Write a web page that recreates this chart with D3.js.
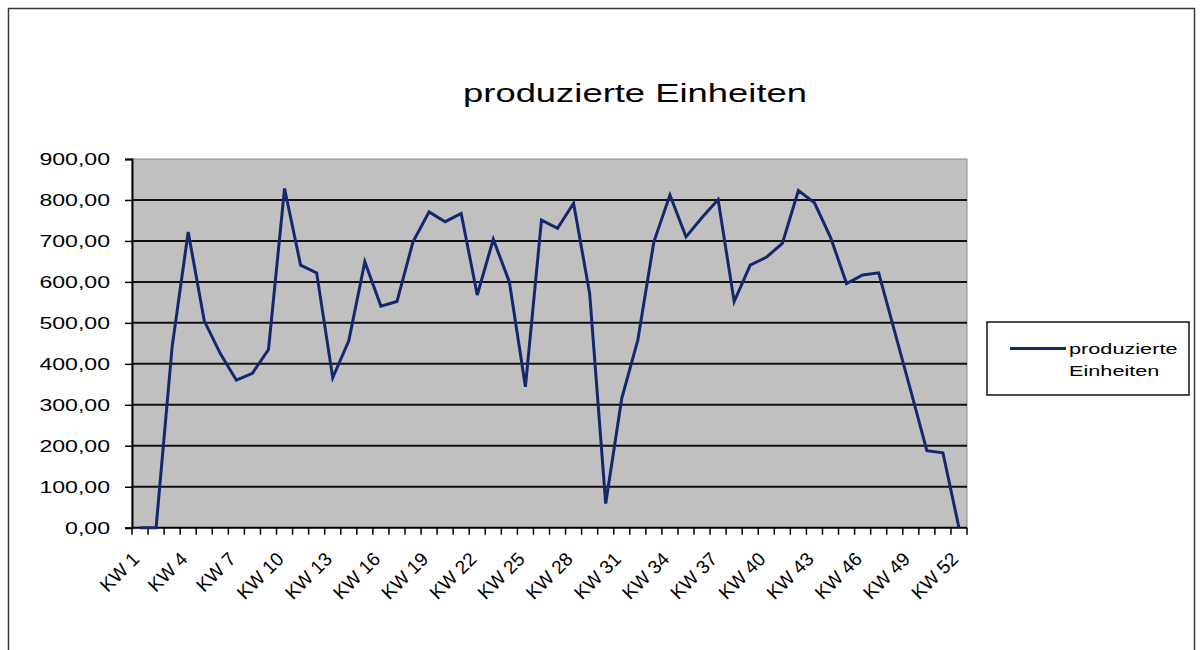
<!DOCTYPE html>
<html>
<head>
<meta charset="utf-8">
<script src="https://cdn.jsdelivr.net/npm/d3@7"></script>
<style>
  html, body { margin: 0; padding: 0; background: #ffffff; }
  svg { display: block; }
  text { font-family: Arial, "Liberation Sans", sans-serif; fill: #000; }
</style>
</head>
<body>
<svg id="chart" width="1200" height="650"></svg>
<script>
// ---- data ----
const categories = d3.range(1, 53).map(i => "KW " + i);
const values = [
  0, 0, 442, 722, 505, 425, 360, 377, 435, 828,
  641, 622, 366, 456, 649, 541, 552, 698, 771, 747,
  767, 568, 704, 600, 344, 751, 731, 792, 572, 59,
  316, 458, 698, 812, 710, 757, 801, 552, 641, 660,
  694, 823, 793, 709, 596, 617, 622, 478, 334, 188,
  183, 0
];
const yTicks = [0, 100, 200, 300, 400, 500, 600, 700, 800, 900];
const xLabelCats = categories.filter((c, i) => i % 3 === 0);
const seriesName = "produzierte Einheiten";
const titleText = "produzierte Einheiten";

// ---- layout ----
const SX = 1.4;   // horizontal stretch of text
const plot = { left: 132, right: 967, top: 159, bottom: 527.7 };
const lineColor = "#13286f";

const svg = d3.select("#chart");

// outer frame
svg.append("rect")
  .attr("x", 8.5).attr("y", 8.5)
  .attr("width", 1186).attr("height", 680)
  .attr("fill", "#fff").attr("stroke", "#3a3a3a").attr("stroke-width", 1.5);

const x = d3.scaleBand().domain(categories).range([plot.left, plot.right]).padding(0);
const y = d3.scaleLinear().domain([0, 900]).range([plot.bottom, plot.top]);

const de = d3.formatLocale({ decimal: ",", thousands: ".", grouping: [3], currency: ["", " €"] });
const fmt = de.format(".2f");

// plot background
svg.append("rect")
  .attr("x", plot.left).attr("y", plot.top)
  .attr("width", plot.right - plot.left).attr("height", plot.bottom - plot.top)
  .attr("fill", "#c0c0c0").attr("stroke", "#8a8a8a").attr("stroke-width", 1);

// gridlines
svg.append("g").selectAll("line")
  .data(yTicks.filter(t => t > 0 && t < 900))
  .join("line")
  .attr("x1", plot.left).attr("x2", plot.right)
  .attr("y1", d => y(d)).attr("y2", d => y(d))
  .attr("stroke", "#111").attr("stroke-width", 2);

// y axis
const yAxis = svg.append("g")
  .attr("transform", `translate(${plot.left},0)`)
  .call(d3.axisLeft(y).tickValues(yTicks).tickSize(7).tickPadding(0).tickFormat(fmt));
yAxis.select(".domain").attr("stroke", "#000").attr("stroke-width", 2);
yAxis.selectAll(".tick line").attr("stroke", "#000").attr("stroke-width", 1.5);
yAxis.selectAll(".tick text")
  .attr("x", -22 / SX)
  .attr("dy", "0.36em")
  .attr("transform", `scale(${SX},1)`)
  .style("font-size", "16.5px")
  .style("font-family", "Arial, 'Liberation Sans', sans-serif");

// x axis line + ticks at category boundaries
const xg = svg.append("g");
xg.append("line")
  .attr("x1", plot.left).attr("x2", plot.right)
  .attr("y1", plot.bottom).attr("y2", plot.bottom)
  .attr("stroke", "#000").attr("stroke-width", 2);
const boundaries = categories.map(c => x(c)).concat([plot.right]);
xg.selectAll("line.tk").data(boundaries).join("line")
  .attr("class", "tk")
  .attr("x1", d => d).attr("x2", d => d)
  .attr("y1", plot.bottom).attr("y2", plot.bottom + 7)
  .attr("stroke", "#000").attr("stroke-width", 1.5);

// x labels
xg.selectAll("text").data(xLabelCats).join("text")
  .attr("transform", d => `translate(${x(d) + x.bandwidth() / 2 + 0.5},${plot.bottom + 32.5}) rotate(-45)`)
  .attr("text-anchor", "end")
  .style("font-size", "19px")
  .text(d => d);

// line
const line = d3.line()
  .x((d, i) => x(categories[i]) + x.bandwidth() / 2)
  .y(d => y(d));
svg.append("path")
  .datum(values)
  .attr("d", line)
  .attr("fill", "none")
  .attr("stroke", lineColor)
  .attr("stroke-width", 3)
  .attr("stroke-linejoin", "miter");

// title
svg.append("text")
  .attr("transform", `translate(635,102) scale(${SX},1)`)
  .attr("text-anchor", "middle")
  .style("font-size", "26px")
  .text(titleText);

// legend
const lg = svg.append("g");
lg.append("rect")
  .attr("x", 987).attr("y", 322).attr("width", 202).attr("height", 73)
  .attr("fill", "#fff").attr("stroke", "#111").attr("stroke-width", 1.5);
lg.append("line")
  .attr("x1", 1010).attr("x2", 1066).attr("y1", 348.5).attr("y2", 348.5)
  .attr("stroke", lineColor).attr("stroke-width", 3);
const words = seriesName.split(" ");
lg.selectAll("text.lt").data(words).join("text")
  .attr("class", "lt")
  .attr("transform", (d, i) => `translate(1069,${354 + i * 22}) scale(${SX},1)`)
  .style("font-size", "15.5px")
  .text(d => d);
</script>
</body>
</html>
